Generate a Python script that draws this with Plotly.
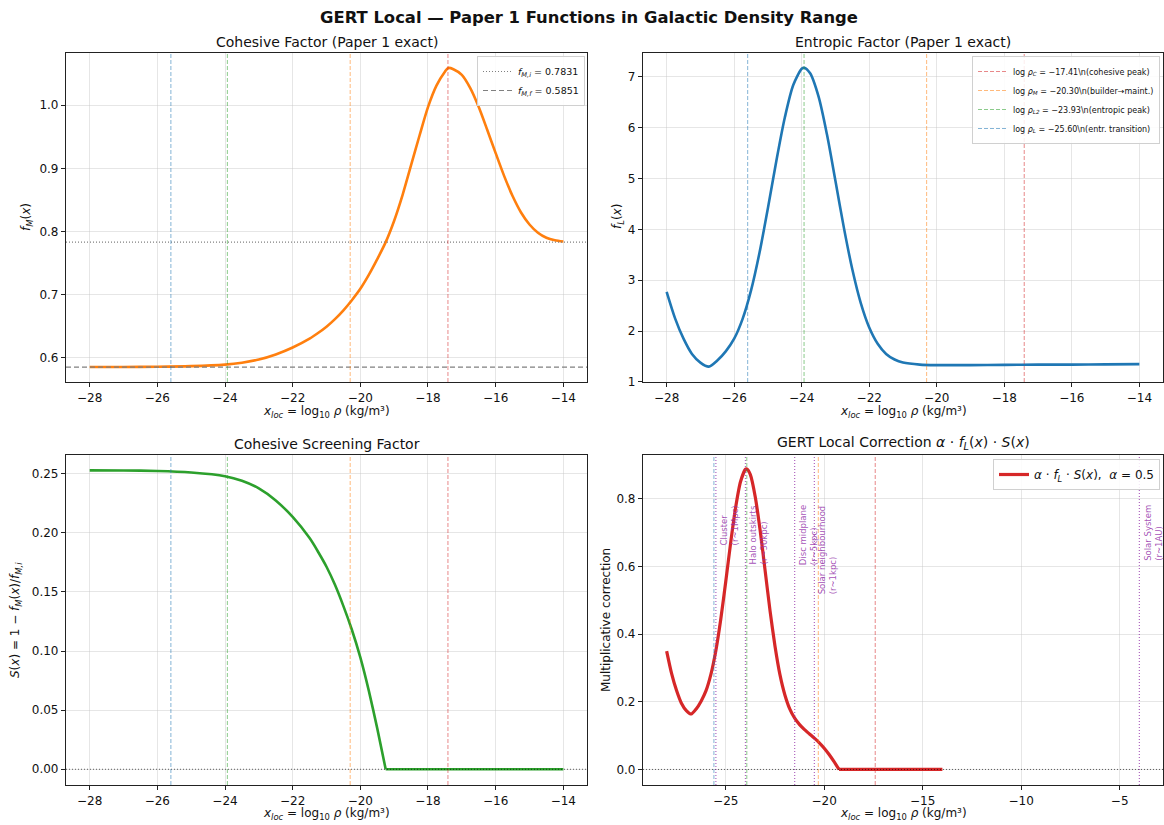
import plotly.graph_objects as go

# ---------------- data ----------------
x_fm = [-28, -27, -26, -25, -24, -23.5, -23, -22.5, -22, -21.5, -21.25, -21, -20.75, -20.5,
        -20.25, -20, -19.75, -19.5, -19.25, -19, -18.75, -18.5, -18.25, -18, -17.75, -17.5,
        -17.4, -17.25, -17, -16.75, -16.5, -16.25, -16, -15.75, -15.5, -15.25, -15, -14.75,
        -14.5, -14.25, -14]
f_m = [0.5851, 0.5852, 0.5855, 0.5865, 0.589, 0.592, 0.597, 0.605, 0.616, 0.630, 0.639, 0.649,
       0.661, 0.675, 0.691, 0.709, 0.731, 0.756, 0.783, 0.817, 0.858, 0.905, 0.952, 0.997,
       1.031, 1.053, 1.059, 1.057, 1.048, 1.027, 0.997, 0.961, 0.924, 0.888, 0.856, 0.830,
       0.811, 0.798, 0.790, 0.786, 0.784]

x_fl = [-28, -27.75, -27.5, -27.25, -27, -26.75, -26.5, -26.25, -26, -25.75, -25.5, -25.25,
        -25, -24.75, -24.5, -24.25, -24, -23.93, -23.75, -23.5, -23.25, -23, -22.75, -22.5,
        -22.25, -22, -21.75, -21.5, -21.25, -21, -20.5, -20, -19, -18, -17, -16, -15, -14]
f_l = [2.77, 2.25, 1.85, 1.55, 1.38, 1.30, 1.42, 1.60, 1.85, 2.24, 2.80, 3.54,
       4.42, 5.35, 6.20, 6.84, 7.16, 7.18, 7.07, 6.61, 5.86, 4.95, 4.03, 3.21,
       2.55, 2.07, 1.75, 1.55, 1.44, 1.38, 1.34, 1.33, 1.33, 1.335, 1.34, 1.34, 1.345, 1.35]

x_s = [-28, -27, -26, -25, -24, -23.5, -23, -22.5, -22, -21.5, -21.25, -21, -20.75, -20.5,
       -20.25, -20, -19.75, -19.5, -19.25, -19, -18, -17, -16, -15, -14]
s_vals = [0.2528, 0.2527, 0.2523, 0.2510, 0.2479, 0.2440, 0.2376, 0.2274, 0.2134, 0.1955,
          0.184, 0.1713, 0.156, 0.138, 0.118, 0.0946, 0.0665, 0.0346, 0.0, 0, 0, 0, 0, 0, 0]

x_corr = [-28, -27.75, -27.5, -27.25, -27, -26.75, -26.5, -26.25, -26, -25.75, -25.5, -25.25,
          -25, -24.75, -24.5, -24.25, -24, -23.93, -23.75, -23.5, -23.25, -23, -22.75, -22.5,
          -22.25, -22, -21.75, -21.5, -21.25, -21, -20.75, -20.5, -20.25, -20, -19.75, -19.5,
          -19.25, -19, -18, -17, -16, -15, -14]
corr = [0.350, 0.284, 0.234, 0.196, 0.174, 0.164, 0.179, 0.202, 0.233, 0.282, 0.352, 0.445,
        0.555, 0.670, 0.774, 0.851, 0.888, 0.889, 0.872, 0.806, 0.706, 0.588, 0.469, 0.365,
        0.281, 0.221, 0.179, 0.1515, 0.1325, 0.118, 0.105, 0.0925, 0.0788, 0.0629, 0.0442,
        0.023, 0.0, 0, 0, 0, 0, 0, 0]

f_m_i = 0.7831
f_m_f = 0.5851
alpha = 0.5

marker_x = [-17.41, -20.30, -23.93, -25.60]
marker_names = ["log <i>ρ<sub>C</sub></i> = −17.41\\n(cohesive peak)",
                "log <i>ρ<sub>M</sub></i> = −20.30\\n(builder→maint.)",
                "log <i>ρ<sub>L2</sub></i> = −23.93\\n(entropic peak)",
                "log <i>ρ<sub>L</sub></i> = −25.60\\n(entr. transition)"]
marker_colors = ["rgba(214,39,40,0.55)", "rgba(255,127,14,0.55)",
                 "rgba(44,160,44,0.55)", "rgba(31,119,180,0.55)"]

env_x = [-25.5, -24.0, -21.5, -20.5, -4.0]
env_labels = ["Cluster<br>(r~1Mpc)", "Halo outskirts<br>(r~30kpc)", "Disc midplane<br>(r~5kpc)",
              "Solar neighbourhood<br>(r~1kpc)", "Solar System<br>(r~1AU)"]
env_label_y = 0.788

# ---------------- layout geometry ----------------
W, H = 1164, 825
def px_x(p): return p / W
def px_y(p): return 1 - p / H

dom_xl = [px_x(66), px_x(587)]
dom_xr = [px_x(643), px_x(1163)]
dom_yt = [px_y(382), px_y(53)]
dom_yb = [px_y(785), px_y(455)]

FONT = "DejaVu Sans"
fig = go.Figure()

def split_at_zero(xs, ys):
    k = next(i for i, v in enumerate(ys) if v == 0)
    return (xs[:k + 1], ys[:k + 1]), (xs[k:], ys[k:])

# curves
fig.add_trace(go.Scatter(x=x_fm, y=f_m, mode="lines", xaxis="x", yaxis="y", showlegend=False,
                         line=dict(color="#ff7f0e", width=2.6, shape="spline", smoothing=0.8)))
fig.add_trace(go.Scatter(x=x_fl, y=f_l, mode="lines", xaxis="x2", yaxis="y2", showlegend=False,
                         line=dict(color="#1f77b4", width=2.6, shape="spline", smoothing=0.8)))

(sa, sb) = split_at_zero(x_s, s_vals)
fig.add_trace(go.Scatter(x=sa[0], y=sa[1], mode="lines", xaxis="x3", yaxis="y3", showlegend=False,
                         line=dict(color="#2ca02c", width=2.6, shape="spline", smoothing=0.6)))
fig.add_trace(go.Scatter(x=sb[0], y=sb[1], mode="lines", xaxis="x3", yaxis="y3", showlegend=False,
                         line=dict(color="#2ca02c", width=2.6)))

(ca, cb) = split_at_zero(x_corr, corr)
corr_name = "<i>α</i> · <i>f<sub>L</sub></i> · <i>S</i>(<i>x</i>),  <i>α</i> = 0.5"
fig.add_trace(go.Scatter(x=ca[0], y=ca[1], mode="lines", xaxis="x4", yaxis="y4",
                         name=corr_name, legend="legend3", legendgroup="c",
                         line=dict(color="#d62728", width=3.2, shape="spline", smoothing=0.6)))
fig.add_trace(go.Scatter(x=cb[0], y=cb[1], mode="lines", xaxis="x4", yaxis="y4",
                         showlegend=False, legendgroup="c",
                         line=dict(color="#d62728", width=3.2)))

# horizontal reference lines in panel 1 (legend entries + shapes)
fig.add_trace(go.Scatter(x=[None], y=[None], mode="lines", xaxis="x", yaxis="y", legend="legend",
                         name=f"<i>f<sub>M,i</sub></i> = {f_m_i:.4f}",
                         line=dict(color="gray", width=1.2, dash="1px,2px")))
fig.add_trace(go.Scatter(x=[None], y=[None], mode="lines", xaxis="x", yaxis="y", legend="legend",
                         name=f"<i>f<sub>M,f</sub></i> = {f_m_f:.4f}",
                         line=dict(color="gray", width=1.2, dash="5px,3px")))
fig.add_shape(type="line", xref="x domain", yref="y", x0=0, x1=1, y0=f_m_i, y1=f_m_i,
              line=dict(color="gray", width=1.2, dash="1px,2px"))
fig.add_shape(type="line", xref="x domain", yref="y", x0=0, x1=1, y0=f_m_f, y1=f_m_f,
              line=dict(color="gray", width=1.2, dash="5px,3px"))

# zero lines
for ax in ["3", "4"]:
    fig.add_shape(type="line", xref=f"x{ax} domain", yref=f"y{ax}", x0=0, x1=1, y0=0, y1=0,
                  line=dict(color="rgba(0,0,0,0.6)", width=1, dash="1px,2px"))

# vertical marker lines in all panels
for ax in ["", "2", "3", "4"]:
    for xv, col in zip(marker_x, marker_colors):
        fig.add_shape(type="line", xref=f"x{ax}", yref=f"y{ax} domain", x0=xv, x1=xv, y0=0, y1=1,
                      line=dict(color=col, width=1, dash="4px,2px"))

# legend entries of markers (panel 2)
for name, col in zip(marker_names, marker_colors):
    fig.add_trace(go.Scatter(x=[None], y=[None], mode="lines", xaxis="x2", yaxis="y2",
                             legend="legend2", name=name,
                             line=dict(color=col, width=1, dash="4px,2px")))

# environment lines (panel 4)
for xv, lab in zip(env_x, env_labels):
    fig.add_shape(type="line", xref="x4", yref="y4 domain", x0=xv, x1=xv, y0=0, y1=1,
                  line=dict(color="rgba(148,50,170,0.75)", width=1.2, dash="1px,2px"))
    fig.add_annotation(x=xv, y=env_label_y, xref="x4", yref="y4", text=lab, textangle=-90,
                       xanchor="left", yanchor="top", align="left", showarrow=False, xshift=1,
                       font=dict(family=FONT, size=8.5, color="rgba(148,50,170,0.85)"))

# ---------------- axes ----------------
grid = "rgba(200,200,200,0.45)"
def xax(domain, anchor, rng, dtick, tick0):
    return dict(domain=domain, anchor=anchor, range=rng, dtick=dtick, tick0=tick0,
                showgrid=True, gridcolor=grid, gridwidth=1, zeroline=False,
                showline=True, linecolor="#222", linewidth=1.2, mirror=True,
                ticks="outside", ticklen=4, tickcolor="#222", automargin=False,
                tickfont=dict(family=FONT, size=12, color="#111"))
def yax(domain, anchor, rng, dtick, tick0, fmt):
    d = xax(domain, anchor, rng, dtick, tick0)
    d["tickformat"] = fmt
    return d

fig.update_layout(
    xaxis=xax(dom_xl, "y", [-28.7, -13.3], 2, -28),
    yaxis=yax(dom_yt, "x", [0.5614, 1.0827], 0.1, 0.6, ".1f"),
    xaxis2=xax(dom_xr, "y2", [-28.7, -13.3], 2, -28),
    yaxis2=yax(dom_yt, "x2", [0.998, 7.47], 1, 2, "d"),
    xaxis3=xax(dom_xl, "y3", [-28.7, -13.3], 2, -28),
    yaxis3=yax(dom_yb, "x3", [-0.0133, 0.2658], 0.05, 0, ".2f"),
    xaxis4=xax(dom_xr, "y4", [-29.2, -2.8], 5, -25),
    yaxis4=yax(dom_yb, "x4", [-0.046, 0.930], 0.2, 0, ".1f"),
)

leg_common = dict(bgcolor="rgba(255,255,255,0.85)", bordercolor="#d0d0d0", borderwidth=1,
                  xanchor="right", yanchor="top", tracegroupgap=0)
fig.update_layout(
    legend=dict(x=px_x(585), y=px_y(56), font=dict(family=FONT, size=9.5, color="#111"),
                itemwidth=30, **leg_common),
    legend2=dict(x=px_x(1160), y=px_y(56), font=dict(family=FONT, size=8, color="#111"),
                 itemwidth=30, **leg_common),
    legend3=dict(x=px_x(1160), y=px_y(459), font=dict(family=FONT, size=12, color="#111"),
                 itemwidth=30, **leg_common),
)

# ---------------- titles ----------------
def ann(text, x, y, size, angle=0, bold=False, xanchor="center", yanchor="middle"):
    fig.add_annotation(text=f"<b>{text}</b>" if bold else text, x=x, y=y, xref="paper",
                       yref="paper", showarrow=False, textangle=angle, xanchor=xanchor,
                       yanchor=yanchor, font=dict(family=FONT, size=size, color="#111"))

ann("GERT Local — Paper 1 Functions in Galactic Density Range", px_x(589), px_y(17), 16.4, bold=True)
ann("Cohesive Factor (Paper 1 exact)", px_x(326.5), px_y(42), 14)
ann("Entropic Factor (Paper 1 exact)", px_x(903), px_y(42), 14)
ann("Cohesive Screening Factor", px_x(326.5), px_y(444), 14)
ann("GERT Local Correction <i>α</i> · <i>f<sub>L</sub></i>(<i>x</i>) · <i>S</i>(<i>x</i>)",
    px_x(903), px_y(443), 14)

xlabel = "<i>x<sub>loc</sub></i> = log<sub>10</sub> <i>ρ</i> (kg/m³)"
ann(xlabel, px_x(326.5), px_y(412), 12)
ann(xlabel, px_x(903), px_y(412), 12)
ann(xlabel, px_x(326.5), px_y(814), 12)
ann(xlabel, px_x(903), px_y(814), 12)

ann("<i>f<sub>M</sub></i>(<i>x</i>)", px_x(27), px_y(217), 12, angle=-90)
ann("<i>f<sub>L</sub></i>(<i>x</i>)", px_x(618), px_y(217), 12, angle=-90)
ann("<i>S</i>(<i>x</i>) = 1 − <i>f<sub>M</sub></i>(<i>x</i>)/<i>f<sub>M,i</sub></i>",
    px_x(16), px_y(620), 12, angle=-90)
ann("Multiplicative correction", px_x(606), px_y(620), 12, angle=-90)

fig.update_layout(width=W, height=H, margin=dict(l=0, r=0, t=0, b=0),
                  paper_bgcolor="white", plot_bgcolor="white",
                  font=dict(family=FONT, color="#111"))

fig.write_html("out.html")
